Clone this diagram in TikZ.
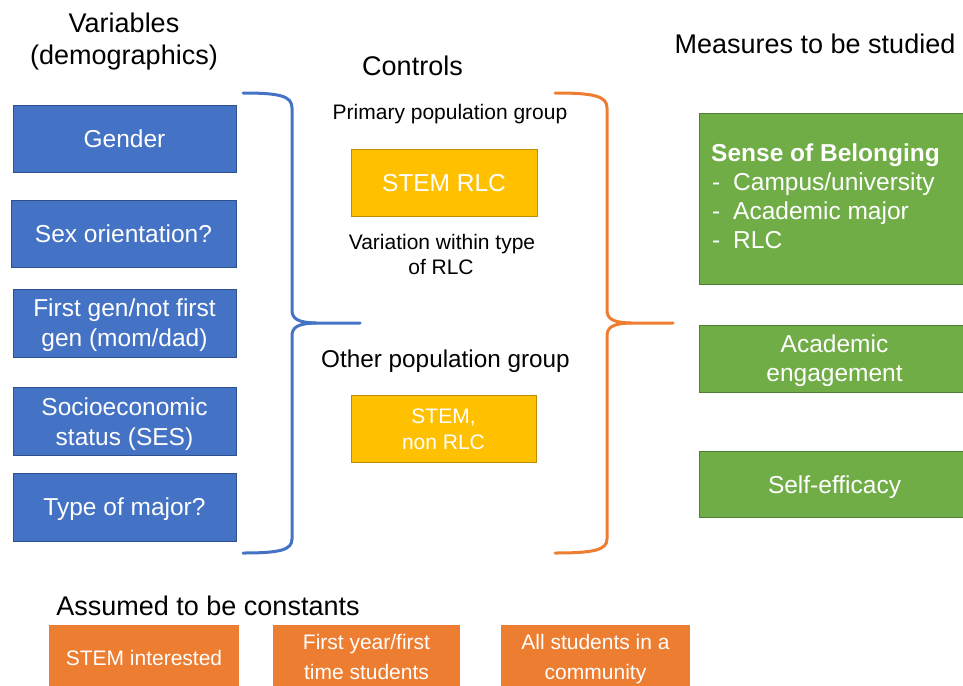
\documentclass[tikz,border=0pt]{standalone}
\usepackage{fontspec}
\setmainfont{Liberation Sans}
\definecolor{bFill}{HTML}{4472C4}
\definecolor{bLine}{HTML}{2F528F}
\definecolor{yFill}{HTML}{FFC000}
\definecolor{yLine}{HTML}{BC8C00}
\definecolor{gFill}{HTML}{70AD47}
\definecolor{gLine}{HTML}{507E32}
\definecolor{oFill}{HTML}{ED7D31}
\begin{document}
\begin{tikzpicture}[x=1pt,y=-1pt,
  bluebox/.style={draw=bLine, fill=bFill, line width=0.9pt, inner sep=0pt, outer sep=0pt},
  yelbox/.style={draw=yLine, fill=yFill, line width=0.9pt, inner sep=0pt, outer sep=0pt},
  grnbox/.style={draw=gLine, fill=gFill, line width=0.9pt, inner sep=0pt, outer sep=0pt},
  orgbox/.style={fill=oFill, inner sep=0pt, outer sep=0pt},
  headtxt/.style={font=\fontsize{27}{32}\selectfont, inner sep=0pt, anchor=base},
  labtxt/.style={font=\fontsize{21}{25}\selectfont, inner sep=0pt, anchor=base},
  midtxt/.style={font=\fontsize{24.3}{29}\selectfont, inner sep=0pt, anchor=base},
  boxtxt/.style={text=white, font=\fontsize{24.5}{29.4}\selectfont, inner sep=0pt, anchor=base},
  smalltxt/.style={text=white, font=\fontsize{21}{25}\selectfont, inner sep=0pt, anchor=base},
  bluebrace/.style={draw=bFill, line width=3pt, line cap=round, line join=round},
  orgbrace/.style={draw=oFill, line width=3pt, line cap=round, line join=round}]
\useasboundingbox (0,0) rectangle (963,685);
\clip (0,0) rectangle (963,685);

% headings
\node[headtxt] (hvar1) at (124,33) {Variables};
\node[headtxt] (hvar2) at (124,65) {(demographics)};
\node[headtxt] (hctl) at (412.5,75) {Controls};
\node[headtxt] (hmeas) at (815,53) {Measures to be studied};
\node[headtxt] (hass) at (208,615) {Assumed to be constants};

% blue boxes
\node[bluebox, minimum width=223pt, minimum height=67pt] (gender) at (124.5,138.5) {};
\node[boxtxt] (gendert) at (124.5,147) {Gender};
\node[bluebox, minimum width=225pt, minimum height=67pt] (sexor) at (123.5,233.5) {};
\node[boxtxt] (sexort) at (123.5,242) {Sex orientation?};
\node[bluebox, minimum width=223pt, minimum height=68pt] (fgen) at (124.5,323) {};
\node[boxtxt] (fgent1) at (124.5,316) {First gen/not first};
\node[boxtxt] (fgent2) at (124.5,346) {gen (mom/dad)};
\node[bluebox, minimum width=223pt, minimum height=68pt] (ses) at (124.5,421) {};
\node[boxtxt] (sest1) at (124.5,415) {Socioeconomic};
\node[boxtxt] (sest2) at (124.5,445) {status (SES)};
\node[bluebox, minimum width=223pt, minimum height=68pt] (major) at (124.5,507) {};
\node[boxtxt] (majort) at (124.5,515.5) {Type of major?};

% blue brace
\coordinate (bb1) at (243,93);
\coordinate (bbtip) at (360,323);
\coordinate (bb2) at (243,553);
\draw[bluebrace] (bb1) .. controls (280,93) and (292,96) .. (292,108) -- (292,310)
   .. controls (292,319) and (298,322.5) .. (316,323) -- (bbtip);
\draw[bluebrace] (316,323) .. controls (298,323.5) and (292,327) .. (292,336) -- (292,539)
   .. controls (292,550) and (280,553) .. (bb2);

% controls
\node[labtxt] (prim) at (450,119) {Primary population group};
\node[yelbox, minimum width=186pt, minimum height=67pt] (stemrlc) at (444,182.5) {};
\node[boxtxt] (stemrlct) at (444,191) {STEM RLC};
\node[labtxt] (var1) at (442,249) {Variation within type};
\node[labtxt] (var2) at (441,274) {of RLC};
\node[midtxt] (other) at (445.5,367) {Other population group};
\node[yelbox, minimum width=185pt, minimum height=67pt] (stemnon) at (443.5,428.5) {};
\node[smalltxt] (stemnont1) at (443.5,423) {STEM,};
\node[smalltxt] (stemnont2) at (443.5,449) {non RLC};

% orange brace
\coordinate (ob1) at (555,93);
\coordinate (obtip) at (673,323);
\coordinate (ob2) at (555,553);
\draw[orgbrace] (ob1) .. controls (594,93) and (607,96) .. (607,108) -- (607,310)
   .. controls (607,319) and (613,322.5) .. (631,323) -- (obtip);
\draw[orgbrace] (631,323) .. controls (613,323.5) and (607,327) .. (607,336) -- (607,539)
   .. controls (607,550) and (594,553) .. (ob2);

% green boxes
\node[grnbox, minimum width=271pt, minimum height=171pt] (sob) at (834.5,198.5) {};
\node[text=white, font=\bfseries\fontsize{24.5}{29}\selectfont, inner sep=0pt, anchor=base west] (sobt0) at (711,161) {Sense of Belonging};
\node[boxtxt, anchor=base west] (sobt1) at (712,190) {\makebox[21pt][l]{-}Campus/university};
\node[boxtxt, anchor=base west] (sobt2) at (712,219) {\makebox[21pt][l]{-}Academic major};
\node[boxtxt, anchor=base west] (sobt3) at (712,248) {\makebox[21pt][l]{-}RLC};
\node[grnbox, minimum width=271pt, minimum height=67pt] (acad) at (834.5,358.5) {};
\node[boxtxt] (acadt1) at (834.5,352.5) {Academic};
\node[boxtxt] (acadt2) at (834.5,381.5) {engagement};
\node[grnbox, minimum width=271pt, minimum height=66pt] (self) at (834.5,484) {};
\node[boxtxt] (selft) at (834.5,493) {Self-efficacy};

% constants
\node[orgbox, minimum width=190pt, minimum height=66pt] (c1) at (144,658) {};
\node[smalltxt] (c1t) at (144,665) {STEM interested};
\node[orgbox, minimum width=187pt, minimum height=66pt] (c2) at (366.5,658) {};
\node[smalltxt] (c2t1) at (366.5,649) {First year/first};
\node[smalltxt] (c2t2) at (366.5,679) {time students};
\node[orgbox, minimum width=189pt, minimum height=66pt] (c3) at (595.5,658) {};
\node[smalltxt] (c3t1) at (595.5,649) {All students in a};
\node[smalltxt] (c3t2) at (595.5,679) {community};
\end{tikzpicture}
\end{document}
